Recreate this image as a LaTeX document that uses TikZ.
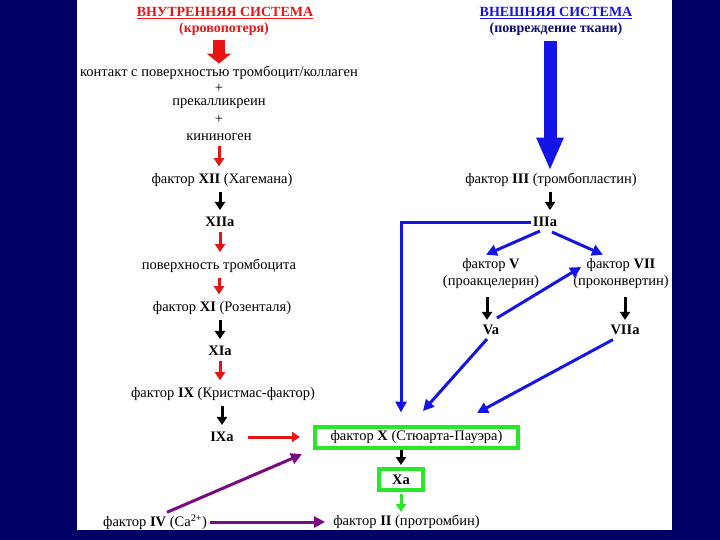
\documentclass[tikz,border=0pt]{standalone}
\usepackage{fontspec}
\setmainfont{Liberation Serif}
\usetikzlibrary{arrows.meta}
\definecolor{navybg}{RGB}{0,0,102}
\definecolor{redc}{RGB}{235,20,20}
\definecolor{bluec}{RGB}{20,20,230}
\definecolor{greenc}{RGB}{40,230,40}
\definecolor{purplec}{RGB}{120,10,130}
\definecolor{navytxt}{RGB}{10,10,120}
\begin{document}
\begin{tikzpicture}[x=1pt,y=-1pt,
 txt/.style={font=\fontsize{14.5}{17}\selectfont, inner sep=2pt, align=center},
 ttl/.style={font=\fontsize{14}{16}\selectfont\bfseries, inner sep=2pt},
 small/.style={line width=3pt, -{Triangle[width=10pt,length=8pt]}, shorten <=3pt, shorten >=5pt},
 blk/.style={small, draw=black},
 redarr/.style={small, draw=redc},
 grnarr/.style={small, draw=greenc},
 bluarr/.style={line width=3pt, draw=bluec, -{Triangle[width=11pt,length=11pt]}},
 purarr/.style={line width=3pt, draw=purplec, -{Triangle[width=11pt,length=11pt]}},
 gbox/.style={txt, draw=greenc, line width=4pt, fill=white},
]
\useasboundingbox (0,0) rectangle (720,540);
\fill[navybg] (0,0) rectangle (720,540);
\fill[white] (77,0) rectangle (672,530);

% titles
\node[ttl, text=redc] (tl1) at (225,13) {\underline{ВНУТРЕННЯЯ СИСТЕМА}};
\node[ttl, text=redc] (tl2) at (224,29) {(кровопотеря)};
\node[ttl, text=bluec] (tr1) at (556,13) {\underline{ВНЕШНЯЯ СИСТЕМА}};
\node[ttl, text=navytxt] (tr2) at (556,29) {(повреждение ткани)};

% left column
\node[txt] (contact) at (219,73) {контакт с поверхностью тромбоцит/коллаген};
\node[txt] (plus1) at (219,88) {+};
\node[txt] (prekal) at (219,104) {прекалликреин};
\node[txt] (plus2) at (219,119) {+};
\node[txt] (kin) at (219,137) {кининоген};
\node[txt] (xii) at (222,180) {фактор \textbf{XII} (Хагемана)};
\node[txt] (xiia) at (220,222) {\textbf{XIIa}};
\node[txt] (pov) at (219,266) {поверхность тромбоцита};
\node[txt] (xi) at (222,308) {фактор \textbf{XI} (Розенталя)};
\node[txt] (xia) at (220,351) {\textbf{XIa}};
\node[txt] (ix) at (223,394) {фактор \textbf{IX} (Кристмас-фактор)};
\node[txt] (ixa) at (222,437) {\textbf{IXa}};

% right column
\node[txt] (iii) at (551,180) {фактор \textbf{III} (тромбопластин)};
\node[txt] (iiia) at (545,222) {\textbf{IIIa}};
\node[txt] (v) at (491,274) {фактор \textbf{V}\\(проакцелерин)};
\node[txt] (vii) at (621,274) {фактор \textbf{VII}\\(проконвертин)};
\node[txt] (va) at (491,330) {\textbf{Va}};
\node[txt] (viia) at (625,330) {\textbf{VIIa}};

% common path
\node[gbox, minimum width=203pt, minimum height=21pt, inner sep=0pt] (fx) at (416.5,437) {фактор \textbf{X} (Стюарта-Пауэра)};
\node[gbox, minimum width=44pt, minimum height=21pt, inner sep=0pt] (xa) at (401,479.5) {\textbf{Xa}};
\node[txt] (fii) at (406.5,522) {фактор \textbf{II} (протромбин)};
\node[txt] (fiv) at (155,522) {фактор \textbf{IV} (Ca\textsuperscript{2+})};

% big block arrows
\draw[line width=12pt, draw=redc, -{Triangle[width=24pt,length=10pt]}, shorten <=2.5pt, shorten >=0.5pt]
  (contact.north |- tl2.south) -- (contact.north);
\draw[line width=13pt, draw=bluec, -{Triangle[width=25pt,length=33pt]}, shorten <=3.5pt, shorten >=0.5pt]
  ([xshift=-1pt]iii.north |- tr2.south) -- ([xshift=-1pt]iii.north);

% left column arrows
\draw[redarr] (kin.south) -- (kin.south |- xii.north);
\draw[blk] (xiia.north |- xii.south) -- (xiia.north);
\draw[redarr] (xiia.south) -- (xiia.south |- pov.north);
\draw[redarr] (pov.south) -- (pov.south |- xi.north);
\draw[blk] (xia.north |- xi.south) -- (xia.north);
\draw[redarr] (xia.south) -- (xia.south |- ix.north);
\draw[blk] (ixa.north |- ix.south) -- (ixa.north);
\draw[redarr, shorten <=12pt, shorten >=13pt] (ixa.east) -- (fx.west);

% right column arrows
\draw[blk] ([xshift=-1pt]iii.south) -- ([xshift=-1pt]iii.south |- iiia.north);
\draw[blk, shorten <=6pt, shorten >=3pt] ([xshift=-4pt]v.south) -- ([xshift=-4pt]v.south |- va.north);
\draw[blk, shorten <=6pt, shorten >=3pt] (viia.north |- vii.south) -- (viia.north);
\draw[bluarr] ([shift={(-5,2)}]iiia.south) -- ([shift={(-5,-2)}]v.north);
\draw[bluarr] ([shift={(7,3)}]iiia.south) -- ([shift={(-18,-2)}]vii.north);
\draw[bluarr] ([shift={(6,-5)}]va.north) -- ([shift={(10,-7)}]vii.west);
\draw[bluarr, shorten >=12pt]
  ([yshift=-1pt]iiia.west) -| ([xshift=-15.5pt]fx.north);
\draw[bluarr] ([shift={(-4,2)}]va.south) -- ([shift={(6.5,-13.5)}]fx.north);
\draw[bluarr] ([shift={(-12,2.5)}]viia.south) -- ([shift={(60.5,-11.5)}]fx.north);

% common path arrows
\draw[blk, shorten <=0pt, shorten >=2pt] (xa.north |- fx.south) -- (xa.north);
\draw[grnarr, shorten <=2pt, shorten >=1pt] (xa.south) -- (xa.south |- fii.north);
\draw[purarr, shorten <=1pt, shorten >=6pt] (fiv.east) -- (fii.west);
\draw[purarr, shorten >=12pt] ([xshift=12pt]fiv.north) -- (fx.south west);
\end{tikzpicture}
\end{document}
